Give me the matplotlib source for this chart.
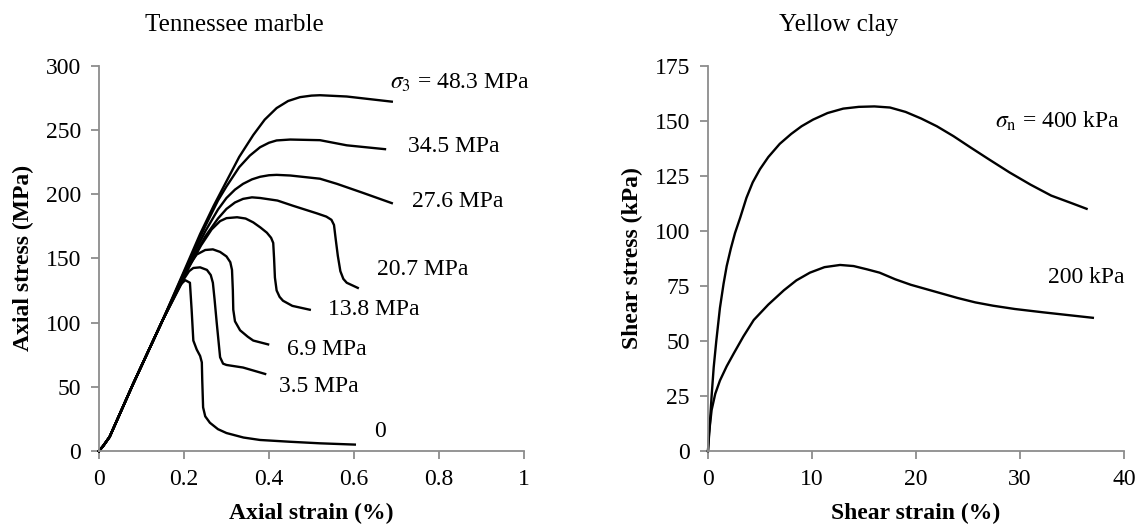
import matplotlib
matplotlib.use("Agg")
import matplotlib.pyplot as plt

plt.rcParams['font.family'] = ['Liberation Serif', 'DejaVu Serif']
plt.rcParams['mathtext.fontset'] = 'stix'

# Tennessee marble: axial strain (%) vs axial stress (MPa), one curve per confining pressure
start_x = [0, 0.01, 0.025, 0.08, 0.15]
start_y = [0, 4, 11, 52, 102]

x_483 = start_x + [0.20, 0.238, 0.27, 0.30, 0.33, 0.363, 0.39, 0.418, 0.445, 0.473, 0.50, 0.52, 0.583, 0.689]
y_483 = start_y + [140, 169, 191, 210, 229, 246, 258, 267, 272.5, 275.5, 276.7, 277, 276, 272]

x_345 = start_x + [0.20, 0.25, 0.28, 0.30, 0.33, 0.355, 0.379, 0.40, 0.418, 0.45, 0.52, 0.583, 0.673]
y_345 = start_y + [139, 175, 195, 206, 221, 230, 236.5, 240, 241.8, 242.5, 242, 238, 235]

x_276 = start_x + [0.20, 0.25, 0.28, 0.30, 0.32, 0.339, 0.36, 0.379, 0.40, 0.418, 0.45, 0.52, 0.56, 0.621, 0.689]
y_276 = start_y + [138, 171, 188, 197, 203.5, 208, 211.5, 213.5, 214.7, 215, 214.5, 212, 208, 201, 193]

x_207 = start_x + [0.20, 0.25, 0.28, 0.30, 0.32, 0.339, 0.36, 0.379, 0.42, 0.456, 0.513, 0.535, 0.547, 0.553, 0.557, 0.562, 0.568, 0.575, 0.583, 0.609]
y_207 = start_y + [137, 167, 181, 188.5, 193.5, 196.3, 197.5, 197, 195, 191, 185, 182.5, 180, 176, 165, 152, 140, 134, 131, 127]

x_138 = start_x + [0.20, 0.24, 0.265, 0.285, 0.30, 0.325, 0.345, 0.363, 0.38, 0.395, 0.405, 0.41, 0.412, 0.414, 0.418, 0.425, 0.433, 0.455, 0.496]
y_138 = start_y + [136, 160, 172.5, 179, 181.3, 182, 181, 178, 174, 170, 166, 162, 150, 135, 125, 120, 117, 113, 110]

x_69 = start_x + [0.20, 0.215, 0.23, 0.25, 0.268, 0.285, 0.30, 0.309, 0.313, 0.315, 0.316, 0.32, 0.332, 0.35, 0.363, 0.398]
y_69 = start_y + [135, 146, 153, 156.5, 157, 155, 151.5, 147, 141, 125, 110, 101, 94, 89, 86, 83]

x_35 = start_x + [0.20, 0.212, 0.222, 0.238, 0.254, 0.263, 0.268, 0.272, 0.277, 0.285, 0.292, 0.30, 0.339, 0.391]
y_35 = start_y + [134, 140, 142.5, 143, 141, 137, 131, 118, 100, 73, 68, 67, 65, 60]

x_0 = start_x + [0.19, 0.203, 0.214, 0.218, 0.222, 0.23, 0.238, 0.242, 0.243, 0.245, 0.25, 0.261, 0.28, 0.30, 0.34, 0.379, 0.45, 0.52, 0.602]
y_0 = start_y + [129, 133, 131, 110, 86, 79, 74, 69, 55, 34, 27, 22, 17, 14, 10.5, 8.6, 7.2, 6, 5]

marble_curves = [(x_483, y_483), (x_345, y_345), (x_276, y_276), (x_207, y_207),
                 (x_138, y_138), (x_69, y_69), (x_35, y_35), (x_0, y_0)]
marble_labels = [r'$\sigma_3$ = 48.3 MPa', '34.5 MPa', '27.6 MPa', '20.7 MPa',
                 '13.8 MPa', '6.9 MPa', '3.5 MPa', '0']
marble_label_x = [0.685, 0.727, 0.736, 0.654, 0.539, 0.442, 0.424, 0.648]
marble_label_y = [287, 237, 194, 141, 110, 79, 50, 15]

# Yellow clay: shear strain (%) vs shear stress (kPa)
x_400 = [0, 0.15, 0.35, 0.55, 0.8, 1.15, 1.5, 1.8, 2.2, 2.6, 3.1, 3.7, 4.3, 5, 5.8, 6.9, 8, 9, 10.1, 11.5,
         13, 14.5, 16, 17.5, 19, 20.5, 22, 23.6, 25.2, 27, 29, 31, 33, 35, 36.4]
y_400 = [0, 10, 25, 38, 50, 65, 76, 84, 92, 99, 106, 115, 122, 128, 133.5, 139.5, 144, 147.5, 150.5, 153.5,
         155.5, 156.3, 156.5, 156, 154, 151, 147.5, 143, 138, 132.5, 126.5, 121, 116, 112.5, 110]

x_200 = [0, 0.1, 0.35, 0.7, 1.15, 1.8, 2.5, 3.4, 4.4, 5.8, 7.3, 8.5, 9.8, 11.2, 12.7, 14, 15.3, 16.5, 18,
         19.5, 21, 22.5, 24, 25.7, 27.4, 29.5, 32.2, 34.5, 37]
y_200 = [0, 8, 18.6, 26, 32, 38.5, 44.5, 52, 59.5, 66.5, 73, 77.5, 81, 83.5, 84.5, 84, 82.5, 81, 78,
         75.5, 73.5, 71.5, 69.5, 67.5, 66, 64.5, 63, 61.8, 60.5]

clay_labels = [r'$\sigma_{\mathrm{n}}$ = 400 kPa', '200 kPa']
clay_label_x = [27.6, 32.7]
clay_label_y = [149.5, 78.6]

fig = plt.figure(figsize=(11.43, 5.28), dpi=100)
ax1 = fig.add_axes([0.0866, 0.1458, 0.3718, 0.7298])
ax2 = fig.add_axes([0.6194, 0.1458, 0.364, 0.7298])

for xs, ys in marble_curves:
    ax1.plot(xs, ys, color='black', lw=1.7, solid_joinstyle='round')
for t, lx, ly in zip(marble_labels, marble_label_x, marble_label_y):
    ax1.text(lx, ly, t, fontsize=17, va='center', ha='left')

ax2.plot(x_400, y_400, color='black', lw=1.7, solid_joinstyle='round')
ax2.plot(x_200, y_200, color='black', lw=1.7, solid_joinstyle='round')
for t, lx, ly in zip(clay_labels, clay_label_x, clay_label_y):
    ax2.text(lx, ly, t, fontsize=17, va='center', ha='left')

ax1.set_xlim(0, 1)
ax1.set_ylim(0, 300)
ax1.set_xticks([0, 0.2, 0.4, 0.6, 0.8, 1])
ax1.set_xticklabels(['0', '0.2', '0.4', '0.6', '0.8', '1'])
ax1.set_yticks(range(0, 301, 50))
ax1.set_xlabel('Axial strain (%)', fontsize=17, fontweight='bold', labelpad=9)
ax1.set_ylabel('Axial stress (MPa)', fontsize=17, fontweight='bold', labelpad=8)

ax2.set_xlim(0, 40)
ax2.set_ylim(0, 175)
ax2.set_xticks([0, 10, 20, 30, 40])
ax2.set_yticks(range(0, 176, 25))
ax2.set_xlabel('Shear strain (%)', fontsize=17, fontweight='bold', labelpad=9)
ax2.set_ylabel('Shear stress (kPa)', fontsize=17, fontweight='bold', labelpad=8)

for ax in (ax1, ax2):
    ax.spines['top'].set_visible(False)
    ax.spines['right'].set_visible(False)
    for s in ('left', 'bottom'):
        ax.spines[s].set_color('#8c8c8c')
        ax.spines[s].set_linewidth(1.3)
    ax.tick_params(direction='out', length=6, width=1.3, color='#8c8c8c',
                   labelsize=17, pad=7)
    for line in ax.lines:
        line.set_clip_on(False)

fig.text(0.2047, 0.953, 'Tennessee marble', fontsize=18, ha='center', va='center')
fig.text(0.734, 0.953, 'Yellow clay', fontsize=18, ha='center', va='center')

fig.savefig('out.png', dpi=100)
